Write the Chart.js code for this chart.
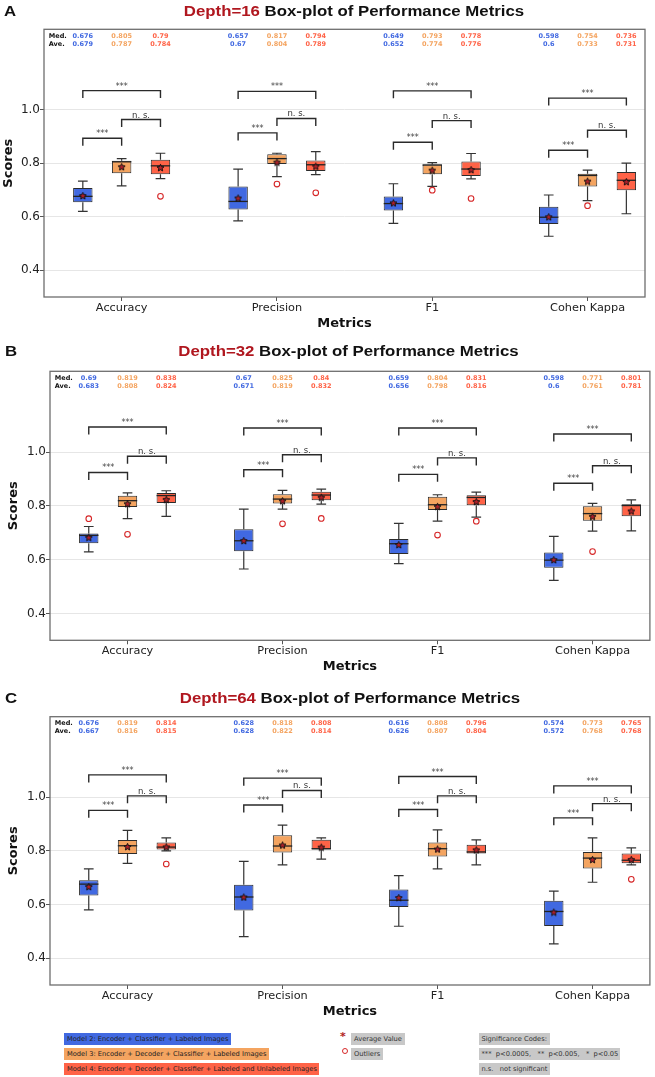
<!DOCTYPE html>
<html lang="en">
<head>
<meta charset="UTF-8">
<title>Box-plot of Performance Metrics</title>
<script src="https://cdn.jsdelivr.net/npm/chart.js"></script>
<style>
  body { margin: 0; background: #fff; width: 655px; height: 1077px; position: relative; overflow: hidden; font-family: "DejaVu Sans", sans-serif; }
  .panel { position: absolute; left: 0; width: 655px; }
  .lg { position: absolute; height: 12.6px; line-height: 12.6px; font-size: 6.7px; color: #222; padding-left: 3px; white-space: nowrap; box-sizing: border-box; }
  .grey { background: #c8c8c8; color: #333; }
</style>
</head>
<body>
<div class="panel" style="top:0;height:332px"><canvas id="chartA"></canvas></div>
<div class="panel" style="top:338px;height:337px"><canvas id="chartB"></canvas></div>
<div class="panel" style="top:685px;height:335px"><canvas id="chartC"></canvas></div>

<!-- legend -->
<div class="lg" style="left:64px;top:1032.5px;width:167px;background:#4169e1">Model 2: Encoder + Classifier + Labeled Images</div>
<div class="lg" style="left:64px;top:1047.5px;width:205px;background:#f4a460">Model 3: Encoder + Decoder + Classifier + Labeled Images</div>
<div class="lg" style="left:64px;top:1062.5px;width:255px;background:#ff6347">Model 4: Encoder + Decoder + Classifier + Labeled and Unlabeled Images</div>
<div style="position:absolute;left:340px;top:1030px;font:bold 11px 'DejaVu Sans';color:#b22222">*</div>
<div style="position:absolute;left:341.5px;top:1047.5px;width:4px;height:4px;border:1.2px solid #d62728;border-radius:50%"></div>
<div class="lg grey" style="left:351px;top:1032.5px;width:54px">Average Value</div>
<div class="lg grey" style="left:351px;top:1047.5px;width:32px">Outliers</div>
<div class="lg grey" style="left:478.5px;top:1032.5px;width:71px">Significance Codes:</div>
<div class="lg grey" style="left:478.5px;top:1047.5px;width:141px">***&nbsp; p&lt;0.0005,&nbsp;&nbsp; **&nbsp; p&lt;0.005,&nbsp;&nbsp; *&nbsp; p&lt;0.05</div>
<div class="lg grey" style="left:478.5px;top:1062.5px;width:71px">n.s.&nbsp;&nbsp; not significant</div>

<script>
    const categories = ['Accuracy', 'Precision', 'F1', 'Cohen Kappa'];
    const models = ['Model 2', 'Model 3', 'Model 4'];
    const colors = ['#4169e1', '#f4a460', '#ff6347'];
    const yTicks = [0.4, 0.6, 0.8, 1.0];
    const bracketPairs = [[0, 1], [1, 2], [0, 2]];
    const bracketLabels = ['***', 'n. s.', '***'];

    // rows: model 2 / model 3 / model 4, columns: categories
    // Depth = 16
    const d16Low  = [[0.620, 0.584, 0.575, 0.527], [0.715, 0.750, 0.713, 0.660], [0.742, 0.757, 0.741, 0.611]];
    const d16Q1   = [[0.654, 0.627, 0.623, 0.573], [0.762, 0.797, 0.759, 0.713], [0.759, 0.771, 0.752, 0.699]];
    const d16Med  = [[0.676, 0.657, 0.649, 0.598], [0.805, 0.817, 0.793, 0.754], [0.79, 0.794, 0.778, 0.736]];
    const d16Q3   = [[0.707, 0.713, 0.675, 0.637], [0.809, 0.833, 0.795, 0.760], [0.813, 0.810, 0.806, 0.767]];
    const d16High = [[0.733, 0.778, 0.723, 0.681], [0.817, 0.837, 0.802, 0.774], [0.837, 0.843, 0.836, 0.800]];
    const d16Mean = [[0.679, 0.67, 0.652, 0.6], [0.787, 0.804, 0.774, 0.733], [0.784, 0.789, 0.776, 0.731]];
    const d16Out  = [[[], [], [], []], [[], [0.722], [0.699], [0.641]], [[0.676], [0.689], [0.668], []]];
    const d16Brackets = [[0.893, 0.963, 1.071], [0.913, 0.967, 1.068], [0.878, 0.959, 1.070], [0.848, 0.923, 1.043]];

    // Depth = 32
    const d32Low  = [[0.629, 0.565, 0.585, 0.523], [0.752, 0.788, 0.743, 0.706], [0.761, 0.806, 0.758, 0.707]];
    const d32Q1   = [[0.661, 0.631, 0.621, 0.570], [0.796, 0.809, 0.784, 0.744], [0.810, 0.821, 0.802, 0.761]];
    const d32Med  = [[0.69, 0.67, 0.659, 0.598], [0.819, 0.825, 0.804, 0.771], [0.838, 0.84, 0.831, 0.801]];
    const d32Q3   = [[0.697, 0.713, 0.677, 0.626], [0.837, 0.843, 0.834, 0.798], [0.848, 0.852, 0.839, 0.806]];
    const d32High = [[0.723, 0.788, 0.735, 0.686], [0.848, 0.857, 0.841, 0.809], [0.856, 0.862, 0.851, 0.822]];
    const d32Mean = [[0.683, 0.671, 0.656, 0.6], [0.808, 0.819, 0.798, 0.761], [0.824, 0.832, 0.816, 0.781]];
    const d32Out  = [[[0.752], [], [], []], [[0.694], [0.733], [0.691], [0.630]], [[], [0.753], [0.743], []]];
    const d32Brackets = [[0.924, 0.984, 1.093], [0.934, 0.990, 1.089], [0.917, 0.978, 1.089], [0.884, 0.949, 1.067]];

    // Depth = 64
    const d64Low  = [[0.580, 0.480, 0.519, 0.453], [0.753, 0.748, 0.733, 0.683], [0.800, 0.769, 0.748, 0.748]];
    const d64Q1   = [[0.634, 0.578, 0.591, 0.520], [0.788, 0.794, 0.779, 0.734], [0.805, 0.805, 0.790, 0.754]];
    const d64Med  = [[0.676, 0.628, 0.616, 0.574], [0.819, 0.818, 0.808, 0.773], [0.814, 0.808, 0.796, 0.765]];
    const d64Q3   = [[0.690, 0.674, 0.656, 0.614], [0.840, 0.858, 0.831, 0.796], [0.831, 0.841, 0.823, 0.790]];
    const d64High = [[0.733, 0.761, 0.708, 0.650], [0.876, 0.896, 0.878, 0.848], [0.848, 0.848, 0.841, 0.811]];
    const d64Mean = [[0.667, 0.628, 0.626, 0.572], [0.816, 0.822, 0.807, 0.768], [0.815, 0.814, 0.804, 0.768]];
    const d64Out  = [[[], [], [], []], [[], [], [], []], [[0.751], [], [], [0.694]]];
    const d64Brackets = [[0.951, 1.005, 1.083], [0.971, 1.025, 1.071], [0.954, 1.005, 1.077], [0.923, 0.976, 1.042]];

    // positions of the three boxes around each category, and box half width (data units)
    const boxOffset = [-0.25, 0, 0.25];
    const boxHalf = 0.0625;
    const legLen = 0.028;

    // layout of the three panels
    const panels = [
        { id: 'chartA', letter: 'A', depth: 16, padTop: 29.3, padRight: 10, left: 44, xH: 35, yTitlePad: 0.7, titleX: 354, titleY: 12.3, letterX: 4,
          d: { low: d16Low, q1: d16Q1, med: d16Med, q3: d16Q3, high: d16High, mean: d16Mean, out: d16Out, br: d16Brackets } },
        { id: 'chartB', letter: 'B', depth: 32, padTop: 33.3, padRight: 3, left: 50, xH: 34.7, yTitlePad: 5.5, titleX: 348.5, titleY: 14.3, letterX: 5,
          d: { low: d32Low, q1: d32Q1, med: d32Med, q3: d32Q3, high: d32High, mean: d32Mean, out: d32Out, br: d32Brackets } },
        { id: 'chartC', letter: 'C', depth: 64, padTop: 31.7, padRight: 3, left: 50, xH: 35, yTitlePad: 5.5, titleX: 350, titleY: 14, letterX: 5,
          d: { low: d64Low, q1: d64Q1, med: d64Med, q3: d64Q3, high: d64High, mean: d64Mean, out: d64Out, br: d64Brackets } }
    ];

    Chart.defaults.font.family = "'DejaVu Sans', sans-serif";
    Chart.defaults.color = '#222';

    // star marker for the average value
    function makeStar(size) {
        const c = document.createElement('canvas');
        c.width = c.height = size;
        const g = c.getContext('2d');
        const r = size / 2 - 0.8, ri = r * 0.45;
        g.beginPath();
        for (let k = 0; k < 10; k++) {
            const rad = k % 2 ? ri : r;
            const a = -Math.PI / 2 + k * Math.PI / 5;
            g.lineTo(size / 2 + rad * Math.cos(a), size / 2 + 0.5 + rad * Math.sin(a));
        }
        g.closePath();
        g.fillStyle = '#b3202a';
        g.fill();
        g.lineWidth = 1;
        g.strokeStyle = '#111';
        g.stroke();
        return c;
    }
    const starImg = makeStar(9);

    const boxPlugin = {
        id: 'boxPlugin',
        beforeDatasetsDraw(chart) {
            const p = chart.options.plugins.boxPlugin.panel;
            const x = chart.scales.x, y = chart.scales.y, ctx = chart.ctx;
            const capHalf = Math.abs(x.getPixelForValue(boxHalf / 2) - x.getPixelForValue(0));
            ctx.save();
            ctx.strokeStyle = '#333';
            ctx.lineWidth = 1.2;
            models.forEach((m, mi) => categories.forEach((c, ci) => {
                const px = x.getPixelForValue(ci + boxOffset[mi]);
                ctx.beginPath();
                ctx.moveTo(px, y.getPixelForValue(p.d.high[mi][ci]));
                ctx.lineTo(px, y.getPixelForValue(p.d.q3[mi][ci]));
                ctx.moveTo(px, y.getPixelForValue(p.d.q1[mi][ci]));
                ctx.lineTo(px, y.getPixelForValue(p.d.low[mi][ci]));
                [p.d.high[mi][ci], p.d.low[mi][ci]].forEach(v => {
                    const py = y.getPixelForValue(v);
                    ctx.moveTo(px - capHalf, py);
                    ctx.lineTo(px + capHalf, py);
                });
                ctx.stroke();
            }));
            ctx.restore();
        },
        afterDatasetDraw(chart, args) {
            const ds = chart.data.datasets[args.index];
            if (ds.seriesIndex === undefined) return;
            const p = chart.options.plugins.boxPlugin.panel;
            const x = chart.scales.x, y = chart.scales.y, ctx = chart.ctx;
            const mi = ds.seriesIndex;
            ctx.save();
            ctx.strokeStyle = '#222';
            ctx.lineWidth = 1.3;
            categories.forEach((c, ci) => {
                const py = y.getPixelForValue(p.d.med[mi][ci]);
                ctx.beginPath();
                ctx.moveTo(x.getPixelForValue(ci + boxOffset[mi] - boxHalf), py);
                ctx.lineTo(x.getPixelForValue(ci + boxOffset[mi] + boxHalf), py);
                ctx.stroke();
            });
            ctx.restore();
        },
        afterDatasetsDraw(chart) {
            const p = chart.options.plugins.boxPlugin.panel;
            const x = chart.scales.x, y = chart.scales.y, ctx = chart.ctx;
            const area = chart.chartArea;
            ctx.save();
            // significance brackets
            categories.forEach((c, ci) => {
                bracketPairs.forEach((pair, bi) => {
                    const x1 = x.getPixelForValue(ci + boxOffset[pair[0]]);
                    const x2 = x.getPixelForValue(ci + boxOffset[pair[1]]);
                    const top = y.getPixelForValue(p.d.br[ci][bi]);
                    const leg = y.getPixelForValue(p.d.br[ci][bi] - legLen);
                    ctx.beginPath();
                    ctx.moveTo(x1, leg);
                    ctx.lineTo(x1, top);
                    ctx.lineTo(x2, top);
                    ctx.lineTo(x2, leg);
                    ctx.strokeStyle = '#2a2a2a';
                    ctx.lineWidth = 1.4;
                    ctx.stroke();
                    const lab = bracketLabels[bi];
                    ctx.font = lab === '***' ? "8px 'DejaVu Sans'" : "8.5px 'DejaVu Sans'";
                    ctx.fillStyle = lab === '***' ? '#444' : '#333';
                    ctx.textAlign = 'center';
                    ctx.textBaseline = 'alphabetic';
                    ctx.fillText(lab, (x1 + x2) / 2, top - 2);
                });
            });
            // median / average rows
            ctx.font = "bold 6.5px 'DejaVu Sans'";
            ctx.textBaseline = 'middle';
            ctx.textAlign = 'left';
            ctx.fillStyle = '#111';
            ctx.fillText('Med.', area.left + 4.8, area.top + 7);
            ctx.fillText('Ave.', area.left + 4.8, area.top + 14.6);
            ctx.textAlign = 'center';
            models.forEach((m, mi) => categories.forEach((c, ci) => {
                const px = x.getPixelForValue(ci + boxOffset[mi]);
                ctx.fillStyle = colors[mi];
                ctx.fillText(String(p.d.med[mi][ci]), px, area.top + 7);
                ctx.fillText(String(p.d.mean[mi][ci]), px, area.top + 14.6);
            }));
            // frame
            ctx.strokeStyle = '#6e6e6e';
            ctx.lineWidth = 1.3;
            ctx.strokeRect(area.left, area.top, area.right - area.left, area.bottom - area.top);
            ctx.restore();
        },
        afterDraw(chart) {
            const p = chart.options.plugins.boxPlugin.panel;
            const ctx = chart.ctx;
            ctx.save();
            ctx.font = "bold 14px 'Liberation Sans', Arial, sans-serif";
            ctx.textBaseline = 'middle';
            ctx.textAlign = 'left';
            // panel letter
            ctx.save();
            ctx.translate(p.letterX, p.titleY);
            ctx.scale(1.2, 1);
            ctx.fillStyle = '#111';
            ctx.fillText(p.letter, 0, 0);
            ctx.restore();
            // two colour title
            const t1 = 'Depth=' + p.depth;
            const t2 = ' Box-plot of Performance Metrics';
            const w1 = ctx.measureText(t1).width, w2 = ctx.measureText(t2).width;
            ctx.translate(p.titleX, p.titleY);
            ctx.scale(1.2, 1);
            ctx.fillStyle = '#b0171f';
            ctx.fillText(t1, -(w1 + w2) / 2, 0);
            ctx.fillStyle = '#111';
            ctx.fillText(t2, -(w1 + w2) / 2 + w1, 0);
            ctx.restore();
        }
    };

    function buildChart(p) {
        const d = p.d;
        const barSets = models.map((m, mi) => ({
            type: 'bar',
            label: m,
            data: categories.map((c, ci) => ({ x: ci + boxOffset[mi], y: [d.q1[mi][ci], d.q3[mi][ci]] })),
            backgroundColor: colors[mi],
            borderColor: '#2b2b2b',
            borderWidth: 1,
            borderSkipped: false,
            grouped: false,
            barPercentage: 0.5,
            categoryPercentage: 1,
            order: 3,
            seriesIndex: mi
        }));
        const meanPts = [], outPts = [];
        models.forEach((m, mi) => categories.forEach((c, ci) => {
            meanPts.push({ x: ci + boxOffset[mi], y: d.mean[mi][ci] });
            d.out[mi][ci].forEach(v => outPts.push({ x: ci + boxOffset[mi], y: v }));
        }));

        return new Chart(document.getElementById(p.id), {
            type: 'bar',
            data: {
                datasets: [
                    { type: 'scatter', label: 'Average Value', data: meanPts, pointStyle: starImg, pointRadius: 4, order: 1 },
                    { type: 'scatter', label: 'Outliers', data: outPts, pointStyle: 'circle', pointRadius: 2.8,
                      borderColor: '#d62728', backgroundColor: 'rgba(0,0,0,0)', borderWidth: 1.1, order: 2 },
                    ...barSets
                ]
            },
            options: {
                responsive: true,
                maintainAspectRatio: false,
                animation: false,
                layout: { padding: { top: p.padTop, right: p.padRight, left: 0, bottom: 0 } },
                plugins: {
                    legend: { display: false },
                    tooltip: { enabled: false },
                    boxPlugin: { panel: p }
                },
                scales: {
                    x: {
                        type: 'linear',
                        min: -0.5,
                        max: 3.37,
                        offset: false,
                        afterBuildTicks: (s) => { s.ticks = categories.map((c, i) => ({ value: i })); },
                        afterFit: (s) => { s.height = p.xH; },
                        ticks: { callback: (v) => categories[v], font: { size: 11.3 }, padding: 0, color: '#222', maxRotation: 0 },
                        grid: { offset: false, drawOnChartArea: false, drawTicks: true, tickLength: 4, tickColor: '#555' },
                        border: { display: false },
                        title: { display: true, text: 'Metrics', font: { size: 13, weight: 'bold' }, color: '#111', padding: { top: 0, bottom: 0.5 } }
                    },
                    y: {
                        min: 0.3,
                        max: 1.3,
                        afterBuildTicks: (s) => { s.ticks = yTicks.map(v => ({ value: v })); },
                        afterFit: (s) => { s.width = p.left; },
                        ticks: { callback: (v) => v.toFixed(1), font: { size: 12 }, padding: 0, color: '#222' },
                        grid: { color: '#e6e6e6', tickColor: '#555', tickLength: 4, drawTicks: true },
                        border: { display: false },
                        title: { display: true, text: 'Scores', font: { size: 13, weight: 'bold' }, color: '#111', padding: { top: p.yTitlePad, bottom: 0 } }
                    }
                }
            },
            plugins: [boxPlugin]
        });
    }

    panels.forEach(buildChart);
</script>
</body>
</html>
